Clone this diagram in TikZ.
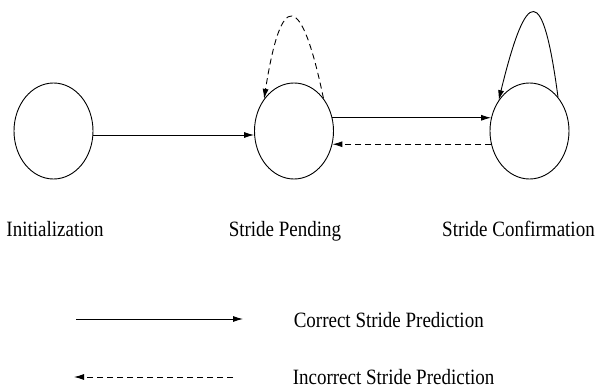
\documentclass[tikz,border=0pt]{standalone}
\usepackage{fontspec}
\setmainfont{Liberation Serif}
\usetikzlibrary{shapes.geometric,arrows.meta}
\tikzset{state/.style={draw, ellipse, minimum width=79pt, minimum height=96pt, inner sep=0pt}}
\newcommand{\tallText}[1]{\scalebox{1}[1.15]{#1}}
\begin{document}
\begin{tikzpicture}[x=1pt, y=-1pt, font=\fontsize{19}{23}\selectfont, line width=0.9pt, line join=round, >={Latex[length=10pt,width=6pt]}, incorrect/.style={dash pattern=on 6pt off 4pt}]
	\useasboundingbox (0,0) rectangle (598,388);
	\foreach \n/\x in {I/53.5,P/294,C/529.5}
	\node[state] (\n) at (\x,131) {};
	\path
	(55,236) node[anchor=base] (LI) {\tallText{Initialization}}
	(285,236) node[anchor=base] (LP) {\tallText{Stride Pending}}
	(518.5,236) node[anchor=base] (LC) {\tallText{Stride Confirmation}}
	(76,319) coordinate (A1) (243,319) coordinate (A2)
	(233,377) coordinate (B1) (74,377) coordinate (B2)
	(290,327) node[anchor=base west] (LA) {\tallText{Correct Stride Prediction}}
	(289,384) node[anchor=base west, inner ysep=1pt] (LB) {\tallText{Incorrect Stride Prediction}}
	;
	\draw[->] ([yshift=-4pt]I.east)--([yshift=-4pt]P.west);
	\draw[->] (P.19)--(C.161);
	\draw[->, incorrect] (C.199)--(P.341);
	\draw[->, incorrect] (P.48) .. controls (301,-10) and (281,-10) .. (P.133);
	\draw[->] (C.50) .. controls (543,-16) and (527,-16) .. (C.135);
	\draw[->] (A1)--(A2);
	\draw[->, incorrect] (B1)--(B2);
\end{tikzpicture}
\end{document}
